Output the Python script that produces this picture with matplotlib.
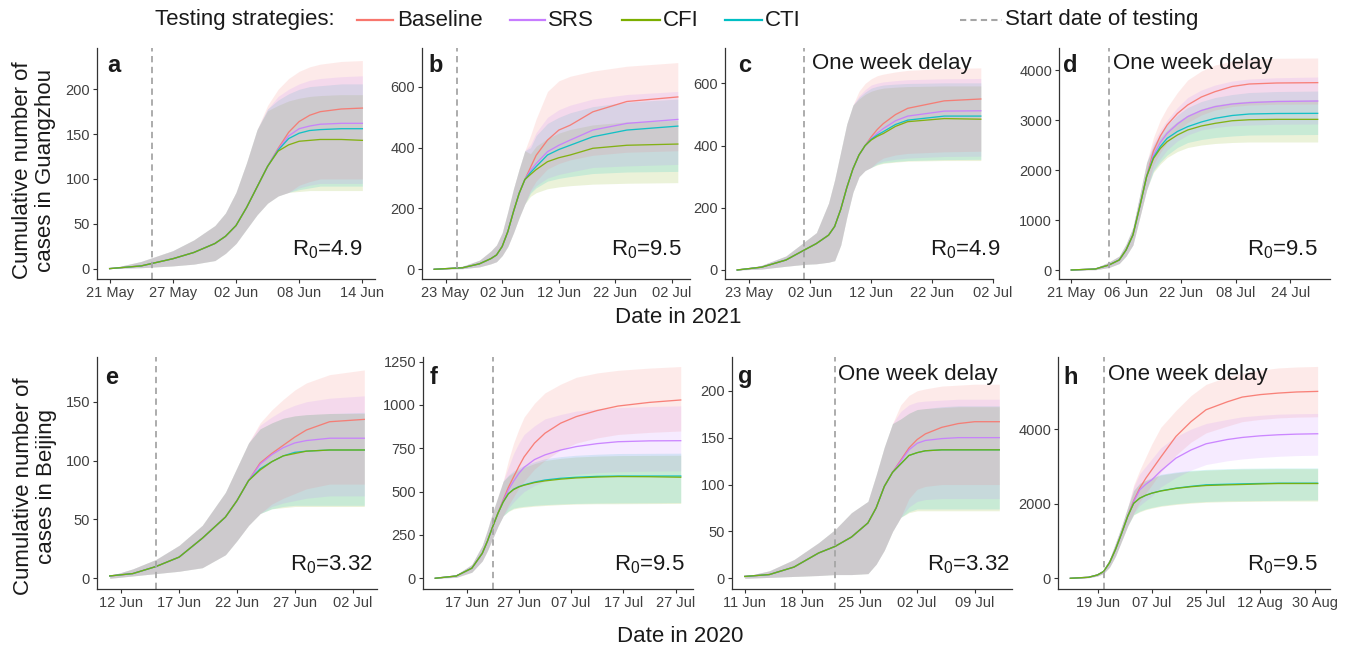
import matplotlib
matplotlib.use("Agg")
import matplotlib.pyplot as plt
import matplotlib.dates as mdates
from matplotlib.lines import Line2D
import pandas as pd

plt.rcParams['font.family'] = ['Liberation Sans', 'DejaVu Sans']
plt.rcParams['mathtext.fontset'] = 'custom'
plt.rcParams['mathtext.rm'] = 'Liberation Sans'
plt.rcParams['mathtext.it'] = 'Liberation Sans:italic'

STRATEGIES = ["Baseline", "SRS", "CFI", "CTI"]
COLORS = ["#F8766D", "#C77CFF", "#7CAE00", "#00BFC4"]

# ---------------- Guangzhou 2021, R0 = 4.9 (panel a) ----------------
A_DATES = ["2021-05-21", "2021-05-24", "2021-05-27", "2021-05-29", "2021-05-31", "2021-06-01",
           "2021-06-02", "2021-06-03", "2021-06-04", "2021-06-05", "2021-06-06", "2021-06-07",
           "2021-06-08", "2021-06-09", "2021-06-10", "2021-06-12", "2021-06-14"]
A_BASE = [0, 3, 11, 18, 28, 36, 48, 68, 91, 114, 134, 152, 164, 171, 175, 178, 179]
A_SRS = [0, 3, 11, 18, 28, 36, 48, 68, 91, 114, 133, 148, 156, 159, 161, 162, 162]
A_CFI = [0, 3, 11, 18, 28, 36, 48, 68, 91, 114, 131, 138, 142, 143, 144, 144, 143]
A_CTI = [0, 3, 11, 18, 28, 36, 48, 68, 91, 114, 132, 145, 151, 154, 155, 156, 156]
A_BASE_LO = [0, 1, 3, 5, 9, 17, 28, 44, 60, 73, 81, 85, 93, 97, 100, 100, 100]
A_SRS_LO = [0, 1, 3, 5, 9, 17, 28, 44, 60, 73, 81, 85, 90, 93, 95, 95, 95]
A_CFI_LO = [0, 1, 3, 5, 9, 17, 28, 44, 60, 73, 81, 85, 86, 87, 87, 87, 87]
A_CTI_LO = [0, 1, 3, 5, 9, 17, 28, 44, 60, 73, 81, 85, 88, 90, 92, 92, 92]
A_BASE_HI = [0, 8, 20, 32, 48, 62, 85, 118, 155, 182, 200, 212, 220, 225, 228, 231, 232]
A_SRS_HI = [0, 8, 20, 32, 48, 62, 85, 118, 155, 178, 192, 200, 206, 210, 212, 214, 215]
A_CFI_HI = [0, 8, 20, 32, 48, 62, 85, 118, 155, 176, 182, 187, 190, 192, 193, 194, 194]
A_CTI_HI = [0, 8, 20, 32, 48, 62, 85, 118, 155, 178, 188, 195, 200, 203, 204, 206, 206]

# ---------------- Guangzhou 2021, R0 = 9.5 (panel b) ----------------
B_DATES = ["2021-05-21", "2021-05-26", "2021-05-29", "2021-05-31", "2021-06-01", "2021-06-02",
           "2021-06-03", "2021-06-04", "2021-06-05", "2021-06-06", "2021-06-07", "2021-06-08",
           "2021-06-10", "2021-06-12", "2021-06-14", "2021-06-18", "2021-06-24", "2021-07-03"]
B_BASE = [0, 5, 18, 35, 47, 75, 124, 190, 250, 295, 335, 375, 425, 458, 474, 518, 552, 567]
B_SRS = [0, 5, 18, 35, 47, 75, 124, 190, 250, 295, 325, 348, 387, 408, 425, 458, 480, 493]
B_CFI = [0, 5, 18, 35, 47, 75, 124, 190, 250, 295, 312, 328, 354, 367, 376, 398, 408, 412]
B_CTI = [0, 5, 18, 35, 47, 75, 124, 190, 250, 295, 318, 338, 376, 394, 408, 436, 458, 471]
B_BASE_LO = [0, 2, 8, 18, 25, 45, 75, 120, 170, 215, 260, 290, 330, 348, 360, 375, 385, 390]
B_SRS_LO = [0, 2, 8, 18, 25, 45, 75, 120, 170, 215, 255, 275, 300, 312, 320, 335, 340, 345]
B_CFI_LO = [0, 2, 8, 18, 25, 45, 75, 120, 170, 215, 240, 252, 265, 271, 275, 280, 283, 285]
B_CTI_LO = [0, 2, 8, 18, 25, 45, 75, 120, 170, 215, 250, 268, 290, 299, 305, 315, 320, 322]
B_BASE_HI = [0, 10, 30, 60, 80, 120, 190, 265, 330, 390, 440, 495, 585, 620, 635, 652, 668, 680]
B_SRS_HI = [0, 10, 30, 60, 80, 120, 190, 265, 330, 390, 410, 450, 500, 525, 540, 560, 575, 585]
B_CFI_HI = [0, 10, 30, 60, 80, 120, 190, 265, 330, 390, 380, 405, 430, 448, 460, 475, 485, 490]
B_CTI_HI = [0, 10, 30, 60, 80, 120, 190, 265, 330, 390, 400, 440, 480, 500, 515, 535, 550, 560]

# ---------------- Guangzhou 2021, R0 = 4.9, one week delay (panel c) ----------------
C_DATES = ["2021-05-21", "2021-05-25", "2021-05-29", "2021-06-01", "2021-06-03", "2021-06-05",
           "2021-06-06", "2021-06-07", "2021-06-08", "2021-06-09", "2021-06-10", "2021-06-11",
           "2021-06-12", "2021-06-13", "2021-06-14", "2021-06-16", "2021-06-18", "2021-06-24",
           "2021-06-30"]
C_BASE = [0, 9, 32, 64, 85, 112, 140, 195, 265, 325, 370, 400, 428, 452, 471, 500, 520, 544, 550]
C_SRS = [0, 9, 32, 64, 85, 112, 140, 195, 265, 325, 370, 400, 422, 440, 455, 480, 495, 511, 512]
C_CFI = [0, 9, 32, 64, 85, 112, 140, 195, 265, 325, 370, 400, 418, 430, 439, 462, 477, 487, 485]
C_CTI = [0, 9, 32, 64, 85, 112, 140, 195, 265, 325, 370, 400, 420, 434, 445, 468, 482, 495, 495]
C_BASE_LO = [0, 3, 12, 18, 20, 25, 30, 80, 170, 250, 300, 320, 330, 348, 360, 370, 375, 380, 382]
C_SRS_LO = [0, 3, 12, 18, 20, 25, 30, 80, 170, 250, 300, 320, 330, 343, 350, 356, 360, 365, 366]
C_CFI_LO = [0, 3, 12, 18, 20, 25, 30, 80, 170, 250, 300, 320, 330, 338, 343, 347, 350, 352, 352]
C_CTI_LO = [0, 3, 12, 18, 20, 25, 30, 80, 170, 250, 300, 320, 330, 340, 345, 349, 352, 355, 356]
C_BASE_HI = [0, 15, 45, 90, 120, 215, 290, 380, 470, 530, 575, 600, 615, 625, 630, 637, 642, 648, 650]
C_SRS_HI = [0, 15, 45, 90, 120, 215, 290, 380, 470, 530, 560, 580, 595, 601, 605, 609, 612, 615, 616]
C_CFI_HI = [0, 15, 45, 90, 120, 215, 290, 380, 470, 530, 550, 565, 575, 581, 585, 588, 590, 592, 592]
C_CTI_HI = [0, 15, 45, 90, 120, 215, 290, 380, 470, 530, 555, 572, 585, 591, 595, 598, 600, 602, 602]

# ---------------- Guangzhou 2021, R0 = 9.5, one week delay (panel d) ----------------
D_DATES = ["2021-05-21", "2021-05-28", "2021-06-01", "2021-06-04", "2021-06-06", "2021-06-08",
           "2021-06-10", "2021-06-12", "2021-06-14", "2021-06-16", "2021-06-18", "2021-06-21",
           "2021-06-24", "2021-06-28", "2021-07-02", "2021-07-07", "2021-07-12", "2021-07-20",
           "2021-08-01"]
D_BASE = [0, 20, 100, 200, 400, 700, 1267, 1867, 2380, 2680, 2900, 3130, 3300, 3460, 3567, 3670,
          3720, 3740, 3747]
D_SRS = [0, 20, 100, 200, 400, 700, 1267, 1867, 2300, 2550, 2733, 2920, 3067, 3190, 3267, 3320,
         3347, 3370, 3380]
D_CFI = [0, 20, 100, 200, 400, 700, 1267, 1867, 2230, 2430, 2567, 2700, 2800, 2880, 2933, 2985,
         3005, 3013, 3013]
D_CTI = [0, 20, 100, 200, 400, 700, 1267, 1867, 2250, 2470, 2633, 2770, 2867, 2960, 3033, 3090,
         3120, 3130, 3133]
D_BASE_LO = [0, 5, 50, 130, 280, 500, 1050, 1600, 2100, 2350, 2550, 2780, 2950, 3100, 3200, 3270,
             3300, 3315, 3320]
D_SRS_LO = [0, 5, 50, 130, 280, 500, 1050, 1600, 2000, 2220, 2400, 2580, 2700, 2800, 2850, 2885,
            2900, 2915, 2920]
D_CFI_LO = [0, 5, 50, 130, 280, 500, 1050, 1600, 1950, 2120, 2250, 2370, 2450, 2500, 2530, 2550,
            2560, 2560, 2560]
D_CTI_LO = [0, 5, 50, 130, 280, 500, 1050, 1600, 1980, 2160, 2300, 2450, 2550, 2610, 2650, 2680,
            2700, 2705, 2710]
D_BASE_HI = [0, 40, 160, 280, 520, 850, 1500, 2150, 2650, 3000, 3250, 3550, 3800, 3980, 4100, 4180,
             4220, 4235, 4240]
D_SRS_HI = [0, 40, 160, 280, 520, 850, 1500, 2150, 2550, 2800, 3000, 3250, 3450, 3600, 3700, 3780,
            3820, 3845, 3860]
D_CFI_HI = [0, 40, 160, 280, 520, 850, 1500, 2150, 2450, 2650, 2800, 2970, 3100, 3220, 3300, 3350,
            3380, 3395, 3400]
D_CTI_HI = [0, 40, 160, 280, 520, 850, 1500, 2150, 2500, 2720, 2900, 3100, 3250, 3370, 3450, 3510,
            3550, 3570, 3580]

# ---------------- Beijing 2020, R0 = 3.32 (panel e) ----------------
E_DATES = ["2020-06-11", "2020-06-13", "2020-06-15", "2020-06-17", "2020-06-19", "2020-06-21",
           "2020-06-22", "2020-06-23", "2020-06-24", "2020-06-25", "2020-06-26", "2020-06-27",
           "2020-06-28", "2020-06-30", "2020-07-03"]
E_BASE = [2, 4, 10, 18, 34, 52, 66, 83, 98, 106, 113, 120, 126, 133, 135]
E_SRS = [2, 4, 10, 18, 34, 52, 66, 83, 97, 105, 111, 115, 117, 119, 119]
E_CFI = [2, 4, 10, 18, 34, 52, 66, 83, 92, 99, 104, 106, 108, 109, 109]
E_CTI = [2, 4, 10, 18, 34, 52, 66, 83, 93, 99, 104, 107, 108, 109, 109]
E_BASE_LO = [0, 2, 4, 6, 9, 20, 32, 45, 55, 63, 68, 72, 76, 80, 80]
E_SRS_LO = [0, 2, 4, 6, 9, 20, 32, 45, 55, 61, 64, 66, 68, 70, 70]
E_CFI_LO = [0, 2, 4, 6, 9, 20, 32, 45, 55, 59, 60, 61, 61, 61, 61]
E_CTI_LO = [0, 2, 4, 6, 9, 20, 32, 45, 55, 59, 61, 62, 62, 62, 62]
E_BASE_HI = [2, 8, 16, 28, 45, 73, 94, 115, 132, 143, 152, 160, 166, 173, 177]
E_SRS_HI = [2, 8, 16, 28, 45, 73, 94, 115, 130, 137, 143, 147, 150, 153, 155]
E_CFI_HI = [2, 8, 16, 28, 45, 73, 94, 115, 127, 132, 136, 138, 139, 140, 140]
E_CTI_HI = [2, 8, 16, 28, 45, 73, 94, 115, 127, 132, 136, 138, 139, 140, 141]

# ---------------- Beijing 2020, R0 = 9.5 (panel f) ----------------
F_DATES = ["2020-06-11", "2020-06-15", "2020-06-18", "2020-06-20", "2020-06-21", "2020-06-22",
           "2020-06-23", "2020-06-24", "2020-06-25", "2020-06-26", "2020-06-27", "2020-06-28",
           "2020-06-30", "2020-07-02", "2020-07-05", "2020-07-08", "2020-07-12", "2020-07-16",
           "2020-07-22", "2020-07-28"]
F_BASE = [0, 13, 58, 144, 215, 298, 375, 452, 525, 585, 645, 700, 780, 837, 895, 933, 968, 994,
          1015, 1029]
F_SRS = [0, 13, 58, 144, 215, 298, 375, 448, 510, 560, 605, 640, 685, 712, 740, 760, 777, 788,
         793, 794]
F_CFI = [0, 13, 58, 144, 215, 298, 375, 440, 488, 512, 527, 537, 552, 562, 572, 579, 584, 587,
         586, 583]
F_CTI = [0, 13, 58, 144, 215, 298, 375, 440, 488, 514, 529, 539, 555, 567, 577, 583, 588, 590,
         590, 590]
F_BASE_LO = [0, 5, 35, 100, 160, 230, 300, 360, 420, 470, 520, 560, 630, 680, 740, 780, 810, 830,
             842, 850]
F_SRS_LO = [0, 5, 35, 100, 160, 230, 300, 360, 405, 440, 472, 500, 535, 560, 585, 600, 610, 615,
            618, 620]
F_CFI_LO = [0, 5, 35, 100, 160, 230, 300, 360, 385, 400, 406, 410, 416, 420, 425, 428, 430, 430,
            431, 432]
F_CTI_LO = [0, 5, 35, 100, 160, 230, 300, 360, 388, 405, 411, 415, 421, 425, 429, 432, 434, 435,
            436, 437]
F_BASE_HI = [0, 20, 80, 190, 280, 380, 470, 560, 680, 780, 860, 930, 1010, 1070, 1120, 1160, 1185,
             1200, 1213, 1222]
F_SRS_HI = [0, 20, 80, 190, 280, 380, 470, 560, 640, 720, 780, 830, 880, 920, 945, 965, 977, 985,
            991, 995]
F_CFI_HI = [0, 20, 80, 190, 280, 380, 470, 560, 590, 610, 627, 640, 662, 680, 692, 700, 705, 708,
            709, 710]
F_CTI_HI = [0, 20, 80, 190, 280, 380, 470, 560, 595, 620, 637, 650, 672, 690, 702, 710, 716, 720,
            721, 722]

# ---------------- Beijing 2020, R0 = 3.32, one week delay (panel g) ----------------
G_DATES = ["2020-06-11", "2020-06-14", "2020-06-17", "2020-06-20", "2020-06-22", "2020-06-24",
           "2020-06-26", "2020-06-27", "2020-06-28", "2020-06-29", "2020-06-30", "2020-07-01",
           "2020-07-02", "2020-07-03", "2020-07-05", "2020-07-07", "2020-07-09", "2020-07-12"]
G_BASE = [2, 4, 12, 27, 34, 44, 59, 75, 98, 113, 126, 139, 148, 154, 161, 165, 167, 167]
G_SRS = [2, 4, 12, 27, 34, 44, 59, 75, 98, 113, 125, 137, 144, 147, 149, 150, 150, 150]
G_CFI = [2, 4, 12, 27, 34, 44, 59, 75, 98, 113, 122, 131, 134, 136, 137, 137, 137, 137]
G_CTI = [2, 4, 12, 27, 34, 44, 59, 75, 98, 113, 122, 131, 134, 136, 137, 137, 137, 137]
G_BASE_LO = [0, 1, 2, 3, 4, 4, 5, 15, 30, 50, 65, 85, 95, 98, 100, 100, 100, 100]
G_SRS_LO = [0, 1, 2, 3, 4, 4, 5, 15, 30, 50, 65, 76, 82, 84, 85, 85, 85, 85]
G_CFI_LO = [0, 1, 2, 3, 4, 4, 5, 15, 30, 50, 65, 70, 72, 72, 72, 72, 72, 72]
G_CTI_LO = [0, 1, 2, 3, 4, 4, 5, 15, 30, 50, 65, 71, 74, 74, 74, 74, 74, 74]
G_BASE_HI = [2, 8, 20, 38, 52, 70, 82, 110, 140, 165, 185, 195, 200, 202, 205, 206, 207, 207]
G_SRS_HI = [2, 8, 20, 38, 52, 70, 82, 110, 140, 165, 178, 185, 188, 189, 190, 191, 191, 191]
G_CFI_HI = [2, 8, 20, 38, 52, 70, 82, 110, 140, 165, 170, 176, 180, 181, 182, 183, 183, 183]
G_CTI_HI = [2, 8, 20, 38, 52, 70, 82, 110, 140, 165, 170, 176, 180, 181, 183, 184, 184, 184]

# ---------------- Beijing 2020, R0 = 9.5, one week delay (panel h) ----------------
H_DATES = ["2020-06-10", "2020-06-16", "2020-06-19", "2020-06-21", "2020-06-23", "2020-06-25",
           "2020-06-27", "2020-06-29", "2020-07-01", "2020-07-03", "2020-07-05", "2020-07-07",
           "2020-07-10", "2020-07-15", "2020-07-20", "2020-07-25", "2020-08-01", "2020-08-06",
           "2020-08-12", "2020-08-18", "2020-08-24", "2020-08-31"]
H_BASE = [0, 27, 90, 180, 420, 780, 1208, 1660, 2080, 2416, 2680, 2908, 3250, 3803, 4200, 4519,
          4730, 4859, 4925, 4966, 4995, 5011]
H_SRS = [0, 27, 90, 180, 420, 780, 1208, 1660, 2060, 2371, 2520, 2640, 2880, 3221, 3440, 3606,
         3720, 3776, 3820, 3848, 3865, 3875]
H_CFI = [0, 27, 90, 180, 420, 780, 1208, 1660, 2010, 2148, 2225, 2282, 2340, 2410, 2455, 2488,
         2505, 2515, 2530, 2541, 2541, 2541]
H_CTI = [0, 27, 90, 180, 420, 780, 1208, 1660, 2010, 2148, 2225, 2282, 2345, 2416, 2465, 2506,
         2522, 2532, 2542, 2550, 2550, 2550]
H_BASE_LO = [0, 15, 60, 130, 300, 600, 1000, 1400, 1750, 2050, 2280, 2500, 2850, 3300, 3650, 3900,
             4080, 4200, 4260, 4300, 4320, 4330]
H_SRS_LO = [0, 15, 60, 130, 300, 600, 1000, 1400, 1740, 1950, 2080, 2200, 2450, 2700, 2900, 3050,
            3150, 3200, 3240, 3270, 3290, 3300]
H_CFI_LO = [0, 15, 60, 130, 300, 600, 1000, 1400, 1700, 1780, 1840, 1880, 1930, 1980, 2015, 2040,
            2055, 2060, 2065, 2070, 2070, 2070]
H_CTI_LO = [0, 15, 60, 130, 300, 600, 1000, 1400, 1710, 1800, 1860, 1900, 1950, 2000, 2035, 2060,
            2075, 2080, 2085, 2090, 2095, 2100]
H_BASE_HI = [0, 40, 120, 230, 520, 950, 1400, 1900, 2500, 2900, 3250, 3600, 4050, 4500, 4900, 5200,
             5400, 5500, 5580, 5640, 5665, 5680]
H_SRS_HI = [0, 40, 120, 230, 520, 950, 1400, 1900, 2450, 2800, 3000, 3200, 3500, 3800, 4000, 4150,
            4260, 4330, 4370, 4400, 4412, 4420]
H_CFI_HI = [0, 40, 120, 230, 520, 950, 1400, 1900, 2350, 2540, 2620, 2680, 2770, 2830, 2875, 2900,
            2920, 2930, 2935, 2940, 2940, 2940]
H_CTI_HI = [0, 40, 120, 230, 520, 950, 1400, 1900, 2360, 2550, 2630, 2700, 2790, 2850, 2895, 2920,
            2940, 2950, 2955, 2960, 2960, 2960]

# Testing start dates (dashed vertical lines)
START_DATES = ["2021-05-25", "2021-05-25", "2021-06-01", "2021-06-01",
               "2020-06-15", "2020-06-22", "2020-06-22", "2020-06-21"]
R0_LABELS = ["4.9", "9.5", "4.9", "9.5", "3.32", "9.5", "3.32", "9.5"]
PANEL_LETTERS = ["a", "b", "c", "d", "e", "f", "g", "h"]
DELAYED = [False, False, True, True, False, False, True, True]

X_TICKS = [
    ["2021-05-21", "2021-05-27", "2021-06-02", "2021-06-08", "2021-06-14"],
    ["2021-05-23", "2021-06-02", "2021-06-12", "2021-06-22", "2021-07-02"],
    ["2021-05-23", "2021-06-02", "2021-06-12", "2021-06-22", "2021-07-02"],
    ["2021-05-21", "2021-06-06", "2021-06-22", "2021-07-08", "2021-07-24"],
    ["2020-06-12", "2020-06-17", "2020-06-22", "2020-06-27", "2020-07-02"],
    ["2020-06-17", "2020-06-27", "2020-07-07", "2020-07-17", "2020-07-27"],
    ["2020-06-11", "2020-06-18", "2020-06-25", "2020-07-02", "2020-07-09"],
    ["2020-06-19", "2020-07-07", "2020-07-25", "2020-08-12", "2020-08-30"],
]
Y_TICKS = [
    [0, 50, 100, 150, 200],
    [0, 200, 400, 600],
    [0, 200, 400, 600],
    [0, 1000, 2000, 3000, 4000],
    [0, 50, 100, 150],
    [0, 250, 500, 750, 1000, 1250],
    [0, 50, 100, 150, 200],
    [0, 2000, 4000],
]

PANEL_DATA = [
    (A_DATES, [(A_BASE, A_BASE_LO, A_BASE_HI), (A_SRS, A_SRS_LO, A_SRS_HI),
               (A_CFI, A_CFI_LO, A_CFI_HI), (A_CTI, A_CTI_LO, A_CTI_HI)]),
    (B_DATES, [(B_BASE, B_BASE_LO, B_BASE_HI), (B_SRS, B_SRS_LO, B_SRS_HI),
               (B_CFI, B_CFI_LO, B_CFI_HI), (B_CTI, B_CTI_LO, B_CTI_HI)]),
    (C_DATES, [(C_BASE, C_BASE_LO, C_BASE_HI), (C_SRS, C_SRS_LO, C_SRS_HI),
               (C_CFI, C_CFI_LO, C_CFI_HI), (C_CTI, C_CTI_LO, C_CTI_HI)]),
    (D_DATES, [(D_BASE, D_BASE_LO, D_BASE_HI), (D_SRS, D_SRS_LO, D_SRS_HI),
               (D_CFI, D_CFI_LO, D_CFI_HI), (D_CTI, D_CTI_LO, D_CTI_HI)]),
    (E_DATES, [(E_BASE, E_BASE_LO, E_BASE_HI), (E_SRS, E_SRS_LO, E_SRS_HI),
               (E_CFI, E_CFI_LO, E_CFI_HI), (E_CTI, E_CTI_LO, E_CTI_HI)]),
    (F_DATES, [(F_BASE, F_BASE_LO, F_BASE_HI), (F_SRS, F_SRS_LO, F_SRS_HI),
               (F_CFI, F_CFI_LO, F_CFI_HI), (F_CTI, F_CTI_LO, F_CTI_HI)]),
    (G_DATES, [(G_BASE, G_BASE_LO, G_BASE_HI), (G_SRS, G_SRS_LO, G_SRS_HI),
               (G_CFI, G_CFI_LO, G_CFI_HI), (G_CTI, G_CTI_LO, G_CTI_HI)]),
    (H_DATES, [(H_BASE, H_BASE_LO, H_BASE_HI), (H_SRS, H_SRS_LO, H_SRS_HI),
               (H_CFI, H_CFI_LO, H_CFI_HI), (H_CTI, H_CTI_LO, H_CTI_HI)]),
]

# ---------------- layout (pixel boxes: left, top, right, bottom) ----------------
W, H = 1351, 651
BOXES = [(97, 48, 375, 279), (422, 48, 690, 279), (725, 48, 993, 279), (1059, 48, 1330, 279),
         (97, 357, 377, 589), (423, 357, 693, 589), (732, 357, 1012, 589), (1058, 357, 1330, 589)]
Y_LIMITS = [(-11.6, 246), (-32, 728), (-29, 714), (-180, 4440),
            (-9.1, 188), (-62, 1277), (-11.4, 236), (-287, 5933)]
R0_X = [362, 682, 1000, 1318, 373, 685, 1010, 1318]
LETTER_X = [107, 428, 738, 1063, 105, 430, 738, 1063]
DELAY_X = [None, None, 812, 1113, None, None, 838, 1108]

TEXT = "#1a1a1a"
TICK_TEXT = "#404040"
BAND_ALPHA = 0.15
# ribbons are layered so that the four-way overlap comes out as a neutral grey
BAND_ORDER = [2, 3, 0, 1]
LINE_ORDER = [0, 1, 3, 2]

fig = plt.figure(figsize=(W / 100, H / 100), dpi=100)


def fx(x):
    return x / W


def fy(y):
    return 1 - y / H


for i, (dates, series) in enumerate(PANEL_DATA):
    l, t, r, b = BOXES[i]
    ax = fig.add_axes([fx(l), fy(b), (r - l) / W, (b - t) / H])
    d = pd.to_datetime(dates)
    for k in BAND_ORDER:
        mid, lo, hi = series[k]
        ax.fill_between(d, lo, hi, color=COLORS[k], alpha=BAND_ALPHA, lw=0)
    for k in LINE_ORDER:
        mid, lo, hi = series[k]
        ax.plot(d, mid, color=COLORS[k], lw=0.95, alpha=0.9)
    ax.axvline(pd.Timestamp(START_DATES[i]), color="#a6a6a6", lw=1.3, ls=(0, (3.5, 2.5)))

    span = d[-1] - d[0]
    ax.set_xlim(d[0] - 0.05 * span, d[-1] + 0.05 * span)
    ax.set_ylim(*Y_LIMITS[i])
    ax.set_xticks(pd.to_datetime(X_TICKS[i]))
    ax.xaxis.set_major_formatter(mdates.DateFormatter("%d %b"))
    ax.set_yticks(Y_TICKS[i])

    for side in ("top", "right"):
        ax.spines[side].set_visible(False)
    for side in ("left", "bottom"):
        ax.spines[side].set_color("#333333")
        ax.spines[side].set_linewidth(0.9)
    ax.tick_params(direction="out", length=3, width=0.8, color="#333333",
                   labelsize=10.5, labelcolor=TICK_TEXT, pad=2)
    ax.patch.set_alpha(0)

    row_mid = 250 if i < 4 else 565
    row_top = 65 if i < 4 else 377
    fig.text(fx(R0_X[i]), fy(row_mid), r"R$_0$=" + R0_LABELS[i], ha="right", va="center",
             fontsize=16, color=TEXT)
    fig.text(fx(LETTER_X[i]), fy(row_top), PANEL_LETTERS[i], ha="left", va="center",
             fontsize=17, fontweight="bold", color=TEXT)
    if DELAYED[i]:
        fig.text(fx(DELAY_X[i]), fy(row_top - 2), "One week delay", ha="left", va="center",
                 fontsize=16, color=TEXT)

# axis titles
fig.text(fx(34), fy(170), "Cumulative number of\ncases in Guangzhou", rotation=90,
         ha="center", va="center", fontsize=16, linespacing=1.15, color=TEXT)
fig.text(fx(35), fy(486), "Cumulative number of\ncases in Beijing", rotation=90,
         ha="center", va="center", fontsize=16, linespacing=1.15, color=TEXT)
fig.text(fx(678), fy(317), "Date in 2021", ha="center", va="center", fontsize=16, color=TEXT)
fig.text(fx(680), fy(637), "Date in 2020", ha="center", va="center", fontsize=16, color=TEXT)

# legend across the top
LEG_Y = 20
fig.text(fx(155), fy(LEG_Y), "Testing strategies:", ha="left", va="center", fontsize=16, color=TEXT)
LEG_KEYS = [(357, 393, 397), (510, 545, 548), (622, 660, 663), (725, 762, 765)]
for (x0, x1, xt), name, col in zip(LEG_KEYS, STRATEGIES, COLORS):
    fig.add_artist(Line2D([fx(x0), fx(x1)], [fy(LEG_Y), fy(LEG_Y)], color=col, lw=1.6,
                          transform=fig.transFigure))
    fig.text(fx(xt), fy(LEG_Y), name, ha="left", va="center", fontsize=16, color=TEXT)
fig.add_artist(Line2D([fx(960), fx(1002)], [fy(LEG_Y), fy(LEG_Y)], color="#a6a6a6", lw=1.5,
                      ls=(0, (3, 2)), transform=fig.transFigure))
fig.text(fx(1005), fy(LEG_Y), "Start date of testing", ha="left", va="center", fontsize=16,
         color=TEXT)

fig.savefig("out.png", dpi=100)
